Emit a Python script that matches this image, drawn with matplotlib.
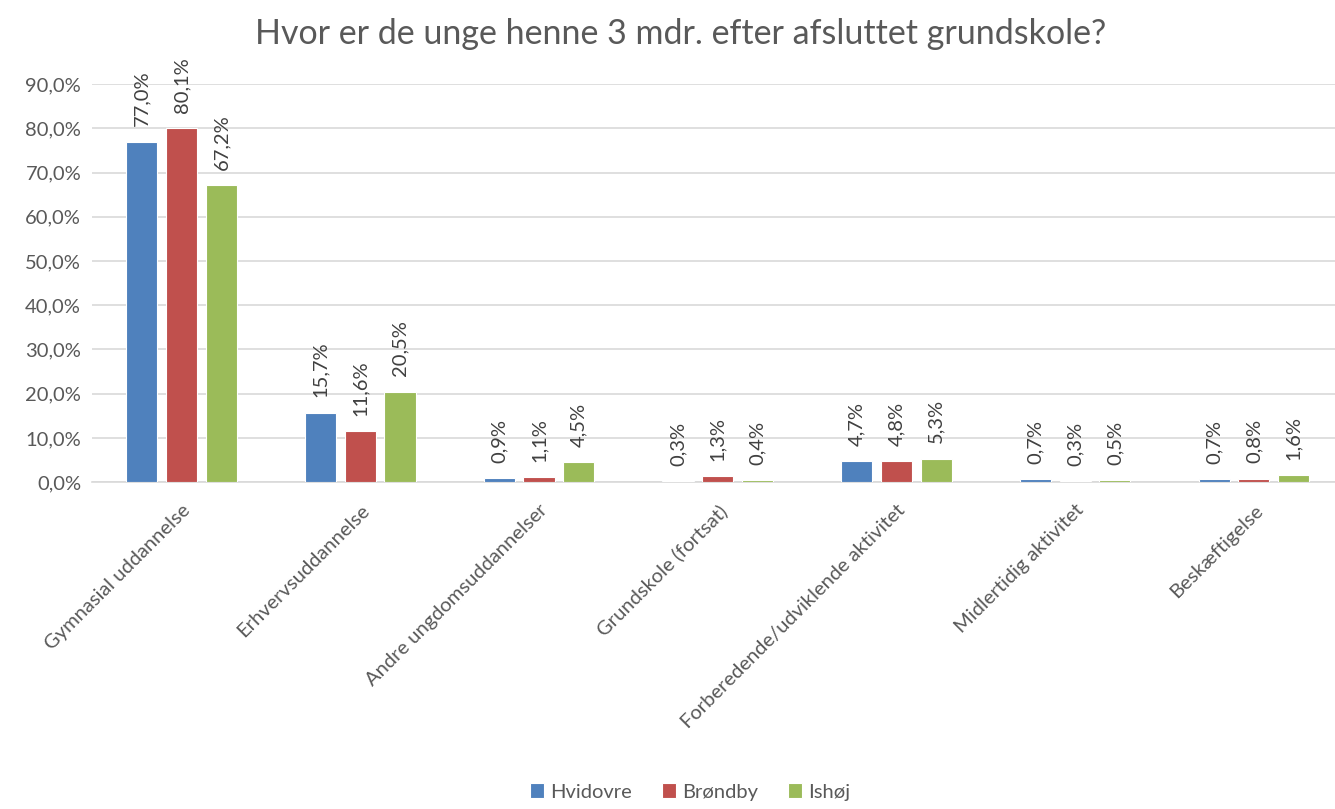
import matplotlib.pyplot as plt
import numpy as np

plt.rcParams['font.family'] = ['Lato', 'DejaVu Sans']

kategorier = ['Gymnasial uddannelse', 'Erhvervsuddannelse', 'Andre ungdomsuddannelser',
              'Grundskole (fortsat)', 'Forberedende/udviklende aktivitet',
              'Midlertidig aktivitet', 'Beskæftigelse']
hvidovre = [77.0, 15.7, 0.9, 0.3, 4.7, 0.7, 0.7]
brondby = [80.1, 11.6, 1.1, 1.3, 4.8, 0.3, 0.8]
ishoj = [67.2, 20.5, 4.5, 0.4, 5.3, 0.5, 1.6]
serier = ['Hvidovre', 'Brøndby', 'Ishøj']
farver = ['#4F81BD', '#C0504D', '#9BBB59']

grå = '#595959'
fig = plt.figure(figsize=(13.35, 8.09), dpi=100)
# aksen går lidt ud over højre kant ligesom i originalen
ax = fig.add_axes([0.0691, 0.404, 0.937, 0.492])

x = np.arange(len(kategorier))
for i, (navn, data) in enumerate(zip(serier, [hvidovre, brondby, ishoj])):
    pos = x + (i - 1) * 0.222
    ax.bar(pos, data, width=0.174, color=farver[i], edgecolor='white', linewidth=0.8,
           label=navn, zorder=3)
    for px, v in zip(pos, data):
        ax.annotate(f'{v:.1f}%'.replace('.', ','), (px, v), xytext=(0, 11),
                    textcoords='offset points', rotation=90, ha='center', va='bottom',
                    fontsize=14.5, color='#404040')

ax.set_xlim(-0.5, len(kategorier) - 0.5)
ax.set_ylim(0, 90)
ax.set_yticks(np.arange(0, 91, 10))
ax.set_yticklabels([f'{t:.1f}%'.replace('.', ',') for t in np.arange(0, 91, 10)],
                   fontsize=14.5, color=grå)
ax.set_xticks(x)
ax.set_xticklabels(kategorier, rotation=45, ha='right', rotation_mode='anchor',
                   fontsize=14.5, color=grå)
ax.tick_params(axis='x', length=0, pad=14)
ax.tick_params(axis='y', length=0, pad=8)
ax.grid(axis='y', color='#d9d9d9', linewidth=1.2, zorder=0)
for s in ['top', 'right', 'left']:
    ax.spines[s].set_visible(False)
ax.spines['bottom'].set_color('#d9d9d9')
ax.spines['bottom'].set_linewidth(1.2)

fig.text(0.51, 0.958, 'Hvor er de unge henne 3 mdr. efter afsluttet grundskole?',
         ha='center', va='center', fontsize=24.5, color=grå)
fig.legend(loc='lower center', bbox_to_anchor=(0.517, -0.012), ncol=3, frameon=False,
           fontsize=14.5, labelcolor=grå, handlelength=0.7, handleheight=0.7,
           handletextpad=0.3, columnspacing=1.5)

fig.savefig('out.png', dpi=100)
